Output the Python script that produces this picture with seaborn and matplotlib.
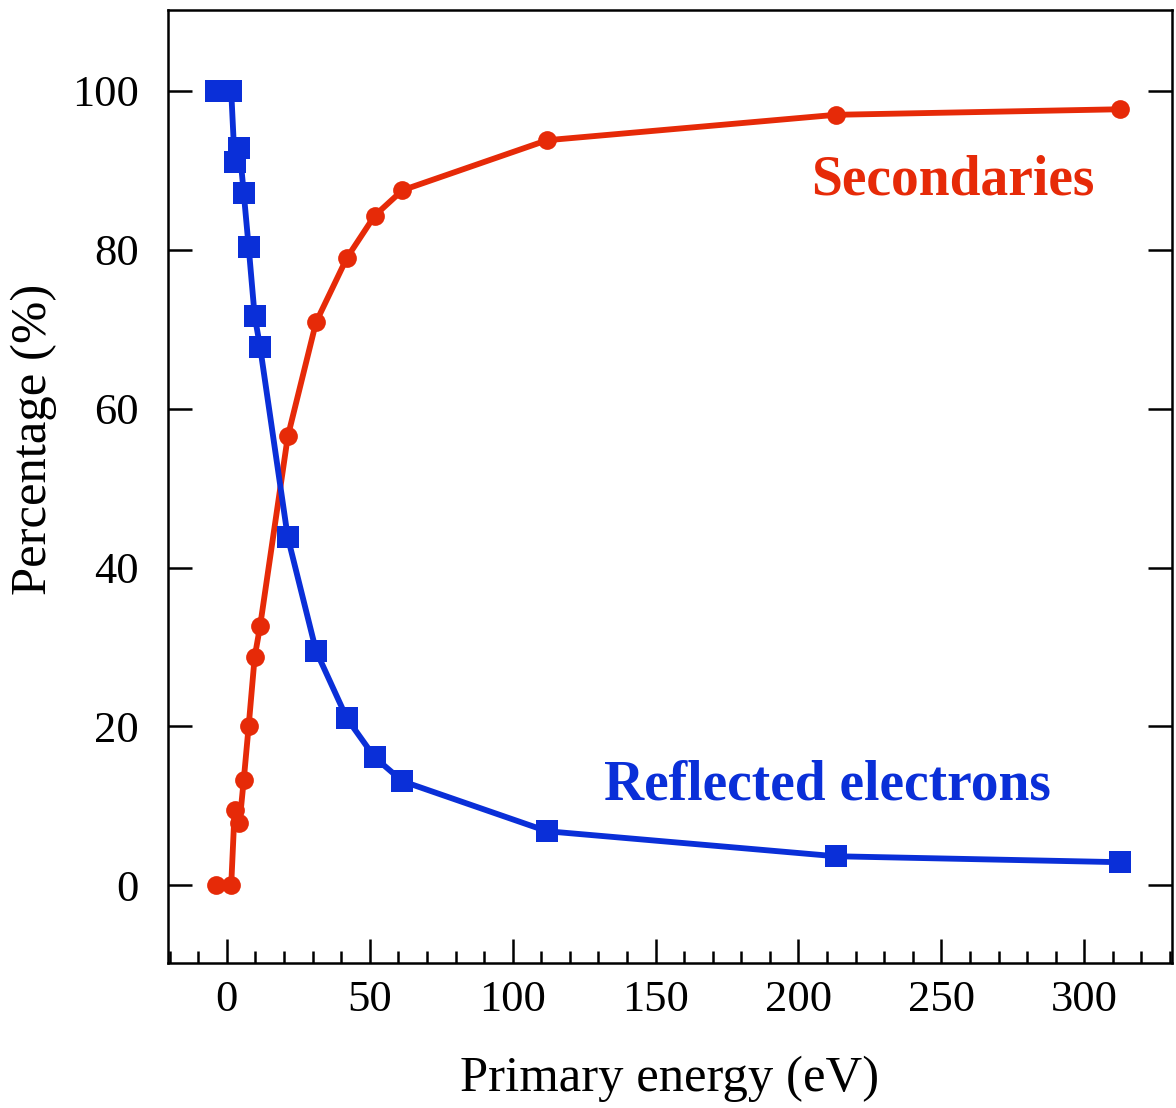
import pandas as pd
import seaborn as sns
import matplotlib.pyplot as plt
from matplotlib.ticker import MultipleLocator

# Energía primaria (eV)
energia = [-3.8, 1.5, 2.7, 4.4, 5.9, 7.6, 9.7, 11.6, 21.3, 31.2, 42.0,
           51.7, 61.4, 112.0, 213.0, 312.6]
# Electrones reflejados (%)
reflejados = [100.0, 100.0, 91.1, 92.8, 87.1, 80.4, 71.7, 67.8, 43.8, 29.5,
              21.0, 16.1, 13.1, 6.8, 3.65, 2.9]
# Secundarios (%)
secundarios = [0.0, 0.0, 9.5, 7.8, 13.3, 20.0, 28.7, 32.6, 56.5, 70.9,
               79.0, 84.3, 87.5, 93.8, 97.0, 97.7]

AZUL = "#0a2fd8"
ROJO = "#e62a08"


def main():
    df = pd.DataFrame({
        "energia": energia,
        "reflejados": reflejados,
        "secundarios": secundarios,
    })

    sns.set_theme(style="white")
    plt.rcParams["font.family"] = ["Liberation Serif", "DejaVu Serif"]
    plt.rcParams["text.color"] = "black"
    plt.rcParams["axes.labelcolor"] = "black"
    plt.rcParams["xtick.color"] = "black"
    plt.rcParams["ytick.color"] = "black"
    plt.rcParams["xtick.direction"] = "in"
    plt.rcParams["ytick.direction"] = "in"

    fig = plt.figure(figsize=(11.76, 11.08), dpi=100)
    ax = fig.add_axes([0.1429, 0.1308, 0.8537, 0.8602])

    sns.lineplot(data=df, x="energia", y="secundarios", sort=False,
                 estimator=None, color=ROJO, lw=4.2, marker="o",
                 markersize=13.5, markeredgewidth=0, ax=ax)
    sns.lineplot(data=df, x="energia", y="reflejados", sort=False,
                 estimator=None, color=AZUL, lw=4.2, marker="s",
                 markersize=15.5, markeredgewidth=0, ax=ax)

    ax.set_xlim(-20.6, 330.7)
    ax.set_ylim(-9.8, 110.2)
    ax.set_xticks([0, 50, 100, 150, 200, 250, 300])
    ax.xaxis.set_minor_locator(MultipleLocator(10))
    ax.set_yticks([0, 20, 40, 60, 80, 100])

    ax.tick_params(axis="both", which="major", direction="in", length=17,
                   width=1.8, labelsize=32, labelcolor="black")
    ax.tick_params(axis="x", which="major", pad=12, bottom=True)
    ax.tick_params(axis="y", which="major", pad=21, right=True, left=True)
    ax.tick_params(axis="x", which="minor", direction="in", length=9,
                   width=1.8, bottom=True)
    for sp in ax.spines.values():
        sp.set_linewidth(1.8)
        sp.set_color("black")

    ax.set_xlabel("Primary energy (eV)", fontsize=36.5, labelpad=26)
    ax.set_ylabel("Percentage (%)", fontsize=36.5)
    ax.yaxis.set_label_coords(-0.111, 0.549)

    ax.text(254, 88.7, "Secondaries", color=ROJO, fontsize=40,
            fontweight="bold", ha="center", va="center")
    ax.text(210, 12.5, "Reflected electrons", color=AZUL, fontsize=40,
            fontweight="bold", ha="center", va="center")

    fig.savefig("out.png", dpi=100)


if __name__ == "__main__":
    main()
